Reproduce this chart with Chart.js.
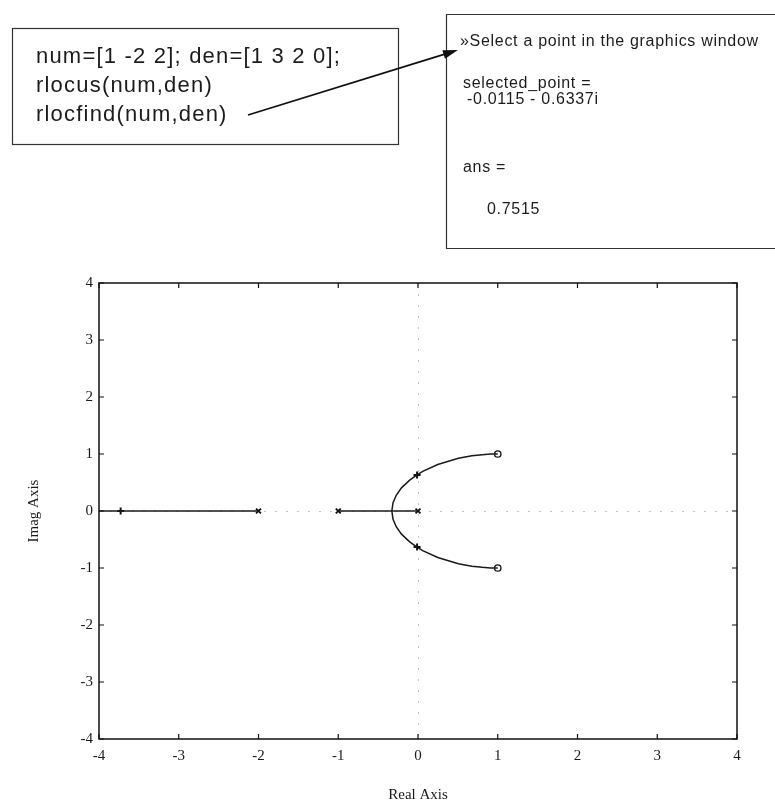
<!DOCTYPE html>
<html>
<head>
<meta charset="utf-8">
<script src="https://cdn.jsdelivr.net/npm/chart.js@4.4.1/dist/chart.umd.min.js"></script>
<style>
  html, body { margin: 0; padding: 0; background: #fff; }
  #wrap { position: relative; width: 775px; height: 804px; }
</style>
</head>
<body>
<div id="wrap"><canvas id="c"></canvas></div>
<script>
// ---- data ----
const tickValues = [-4, -3, -2, -1, 0, 1, 2, 3, 4];
const tickLabels = ['-4', '-3', '-2', '-1', '0', '1', '2', '3', '4'];

// real-axis branch from pole -2 towards -infinity
const farBranchX = [-4, -2];
const farBranchY = [0, 0];
// real-axis segment between poles -1 and 0
const nearBranchX = [-1, 0];
const nearBranchY = [0, 0];
// complex branches from breakaway (-0.33) to zeros 1 ± j
const upperBranchX = [-0.328, -0.313, -0.273, -0.207, -0.104, -0.012, 0.059, 0.248, 0.506, 0.676, 0.805, 0.91, 1.0];
const upperBranchY = [0, 0.145, 0.276, 0.406, 0.541, 0.634, 0.694, 0.816, 0.924, 0.968, 0.988, 0.998, 1.0];
const lowerBranchX = [-0.328, -0.313, -0.273, -0.207, -0.104, -0.012, 0.059, 0.248, 0.506, 0.676, 0.805, 0.91, 1.0];
const lowerBranchY = [0, -0.145, -0.276, -0.406, -0.541, -0.634, -0.694, -0.816, -0.924, -0.968, -0.988, -0.998, -1.0];

const poleX = [-2, -1, 0];
const poleY = [0, 0, 0];
const zeroX = [1, 1];
const zeroY = [1, -1];
const selectedX = [-0.0115, -0.0115, -3.7285];
const selectedY = [0.6337, -0.6337, 0];

const codeLines = ['num=[1 -2 2]; den=[1 3 2 0];', 'rlocus(num,den)', 'rlocfind(num,den)'];
const outputLines = ['»Select a point in the graphics window', 'selected_point =', '-0.0115 - 0.6337i', 'ans =', '0.7515'];

// ---- helpers ----
const pts = (xs, ys) => xs.map((v, i) => ({x: v, y: ys[i]}));
const lineSet = (xs, ys) => ({
  data: pts(xs, ys), showLine: true, borderColor: '#1a1a1a', borderWidth: 1.5,
  pointRadius: 0, fill: false, tension: 0
});

const framePlugin = {
  id: 'frame',
  afterDatasetsDraw(chart) {
    const {ctx, chartArea: a, scales: {x, y}} = chart;
    ctx.save();
    ctx.strokeStyle = '#111';
    ctx.lineWidth = 1.5;
    ctx.strokeRect(a.left, a.top, a.right - a.left, a.bottom - a.top);
    ctx.lineWidth = 1.2;
    const L = 5;
    ctx.beginPath();
    x.ticks.forEach(t => {
      const p = x.getPixelForValue(t.value);
      ctx.moveTo(p, a.bottom); ctx.lineTo(p, a.bottom - L);
      ctx.moveTo(p, a.top); ctx.lineTo(p, a.top + L);
    });
    y.ticks.forEach(t => {
      const p = y.getPixelForValue(t.value);
      ctx.moveTo(a.left, p); ctx.lineTo(a.left + L, p);
      ctx.moveTo(a.right, p); ctx.lineTo(a.right - L, p);
    });
    ctx.stroke();
    ctx.restore();
  }
};

const notePlugin = {
  id: 'notes',
  afterDraw(chart) {
    const ctx = chart.ctx;
    ctx.save();
    // left code box
    ctx.strokeStyle = '#333';
    ctx.lineWidth = 1.2;
    ctx.strokeRect(12.5, 28.5, 386, 116);
    ctx.fillStyle = '#1c1c1c';
    ctx.font = '22px "Liberation Sans", Arial, sans-serif';
    ctx.letterSpacing = '1.2px';
    ctx.textBaseline = 'middle';
    ctx.textAlign = 'left';
    const codeY = [57, 86, 115];
    codeLines.forEach((s, i) => ctx.fillText(s, 36, codeY[i]));
    // right output box (cut off at the right edge)
    ctx.beginPath();
    ctx.moveTo(776, 14.5); ctx.lineTo(446.5, 14.5); ctx.lineTo(446.5, 248.5); ctx.lineTo(776, 248.5);
    ctx.stroke();
    ctx.font = '16px "Liberation Sans", Arial, sans-serif';
    ctx.letterSpacing = '0.7px';
    const outX = [460, 463, 467, 463, 487];
    const outY = [42, 84, 100, 168, 210];
    outputLines.forEach((s, i) => ctx.fillText(s, outX[i], outY[i]));
    ctx.letterSpacing = '0px';
    // arrow
    const x1 = 248, y1 = 115, x2 = 458, y2 = 50;
    ctx.strokeStyle = '#111';
    ctx.lineWidth = 1.8;
    ctx.beginPath(); ctx.moveTo(x1, y1); ctx.lineTo(x2 - 10, y2 + 3.1); ctx.stroke();
    const ang = Math.atan2(y2 - y1, x2 - x1);
    const hl = 15, hw = 4.5;
    ctx.fillStyle = '#111';
    ctx.beginPath();
    ctx.moveTo(x2, y2);
    ctx.lineTo(x2 - hl * Math.cos(ang) + hw * Math.sin(ang), y2 - hl * Math.sin(ang) - hw * Math.cos(ang));
    ctx.lineTo(x2 - hl * Math.cos(ang) - hw * Math.sin(ang), y2 - hl * Math.sin(ang) + hw * Math.cos(ang));
    ctx.closePath();
    ctx.fill();
    ctx.restore();
  }
};

const serif = '"Liberation Serif", "Times New Roman", serif';

new Chart(document.getElementById('c'), {
  type: 'scatter',
  data: {
    datasets: [
      lineSet(farBranchX, farBranchY),
      lineSet(nearBranchX, nearBranchY),
      lineSet(upperBranchX, upperBranchY),
      lineSet(lowerBranchX, lowerBranchY),
      { data: pts(poleX, poleY), pointStyle: 'crossRot', pointRadius: 3.5, borderColor: '#111', borderWidth: 1.8, showLine: false },
      { data: pts(zeroX, zeroY), pointStyle: 'circle', pointRadius: 3.2, borderColor: '#111', backgroundColor: '#fff', borderWidth: 1.3, showLine: false },
      { data: pts(selectedX, selectedY), pointStyle: 'cross', pointRadius: 3.5, borderColor: '#111', borderWidth: 2, showLine: false }
    ]
  },
  options: {
    responsive: true,
    maintainAspectRatio: false,
    animation: false,
    events: [],
    layout: { padding: { left: 0, top: 283, right: 38, bottom: 0 } },
    plugins: { legend: { display: false }, tooltip: { enabled: false }, title: { display: false } },
    scales: {
      x: {
        type: 'linear', min: -4, max: 4,
        afterBuildTicks: s => { s.ticks = tickValues.map(v => ({value: v})); },
        afterFit: s => { s.height = 65; },
        ticks: { padding: 8, color: '#1a1a1a', font: { family: serif, size: 15 },
                 callback: (v) => tickLabels[tickValues.indexOf(v)] },
        grid: { drawTicks: false, lineWidth: 1,
                color: c => (c.tick && c.tick.value === 0) ? '#c4c4c4' : 'rgba(0,0,0,0)' },
        border: { display: false, dash: [2, 9] },
        title: { display: true, text: 'Real Axis', color: '#1a1a1a', font: { family: serif, size: 15 }, padding: { top: 0, bottom: 0 } }
      },
      y: {
        type: 'linear', min: -4, max: 4,
        afterBuildTicks: s => { s.ticks = tickValues.map(v => ({value: v})); },
        afterFit: s => { s.width = 99; },
        ticks: { padding: 6, color: '#1a1a1a', font: { family: serif, size: 15 },
                 callback: (v) => tickLabels[tickValues.indexOf(v)] },
        grid: { drawTicks: false, lineWidth: 1,
                color: c => (c.tick && c.tick.value === 0) ? '#c4c4c4' : 'rgba(0,0,0,0)' },
        border: { display: false, dash: [2, 9] },
        title: { display: true, text: 'Imag Axis', color: '#1a1a1a', font: { family: serif, size: 15 }, padding: { top: 25, bottom: 0 } }
      }
    }
  },
  plugins: [framePlugin, notePlugin]
});
</script>
</body>
</html>
